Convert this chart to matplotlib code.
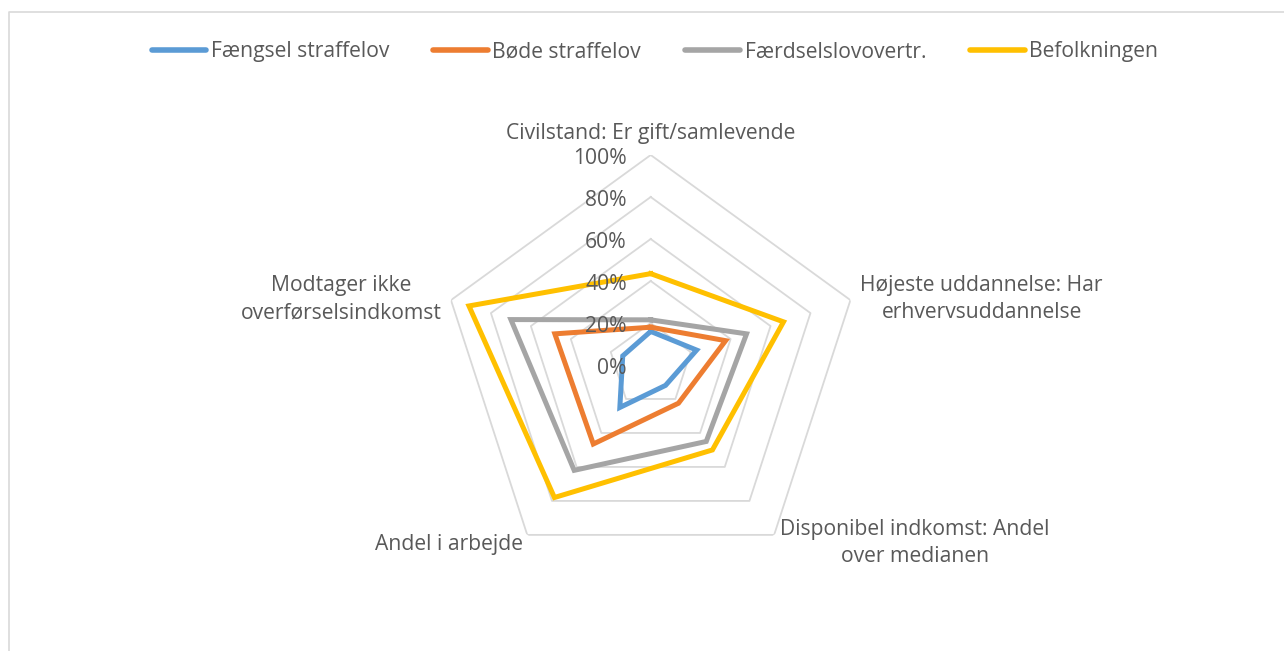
import numpy as np
import matplotlib
matplotlib.use("Agg")
import matplotlib.pyplot as plt
from matplotlib.lines import Line2D
import matplotlib.transforms as mtransforms

categories = [
    "Civilstand: Er gift/samlevende",
    "Højeste uddannelse: Har\nerhvervsuddannelse",
    "Disponibel indkomst: Andel\nover medianen",
    "Andel i arbejde",
    "Modtager ikke\noverførselsindkomst",
]
series_names = ["Fængsel straffelov", "Bøde straffelov", "Færdselslovovertr.", "Befolkningen"]
faengsel = [0.16, 0.23, 0.12, 0.25, 0.14]
boede = [0.18, 0.375, 0.225, 0.465, 0.48]
faerdsel = [0.215, 0.48, 0.45, 0.62, 0.70]
befolkning = [0.435, 0.665, 0.50, 0.78, 0.91]
tick_values = [0.0, 0.2, 0.4, 0.6, 0.8, 1.0]
tick_labels = ["0%", "20%", "40%", "60%", "80%", "100%"]

colors = ["#5B9BD5", "#ED7D31", "#A5A5A5", "#FFC000"]
text_color = "#595959"
grid_color = "#D9D9D9"

plt.rcParams['font.family'] = ['Open Sans', 'DejaVu Sans']
FS = 15.2

W, H = 1284, 651
fig = plt.figure(figsize=(W / 100, H / 100), dpi=100)

# border of the chart area
fig.add_artist(Line2D([9 / W, 9 / W, 1.0], [0.0, 1 - 12 / H, 1 - 12 / H],
                      transform=fig.transFigure, color="#D9D9D9", lw=1.2))

cx, cy, R = 650.7, 365.0, 210.0
ax = fig.add_axes([(cx - R) / W, 1 - (cy + R) / H, 2 * R / W, 2 * R / H], projection="polar")
ax.set_theta_offset(np.pi / 2)
ax.set_theta_direction(-1)
ax.set_ylim(0, 1.0)
ax.grid(False)
ax.spines["polar"].set_visible(False)
ax.set_xticks([])
ax.set_yticks([])
ax.patch.set_alpha(0)

n = len(categories)
angles = np.arange(n) * 2 * np.pi / n
closed = np.concatenate([angles, angles[:1]])

# pentagon grid
for t in tick_values[1:]:
    ax.plot(closed, [t] * (n + 1), color=grid_color, lw=1.3, zorder=1)

# data
for name, vals, c in zip(series_names, [faengsel, boede, faerdsel, befolkning], colors):
    v = list(vals) + [vals[0]]
    ax.plot(closed, v, color=c, lw=3.6, label=name, zorder=3, solid_joinstyle="miter")

# tick labels (drawn above the series lines)
for tv, tl in zip(tick_values, tick_labels):
    tr = ax.transData + mtransforms.ScaledTranslation(-24 / 100, -3 / 100, fig.dpi_scale_trans)
    ax.text(0, tv, tl, transform=tr, ha="right", va="center", fontsize=FS,
            color=text_color, zorder=5)

# category labels
offsets = [(0, 22, "center"), (10, 1, "left"), (6, -8, "left"), (-4, -10, "right"), (-9, 1, "right")]
for ang, lab, (dx, dy, ha) in zip(angles, categories, offsets):
    tr = ax.transData + mtransforms.ScaledTranslation(dx / 100, dy / 100, fig.dpi_scale_trans)
    ax.text(ang, 1.0, lab, transform=tr, ha=ha, va="center", multialignment="center",
            fontsize=FS, color=text_color, linespacing=1.4)

handles = [Line2D([], [], color=c, lw=4, solid_capstyle="round") for c in colors]
leg = fig.legend(handles, series_names, loc="center", bbox_to_anchor=(655 / W, 1 - 52 / H),
                 ncol=4, frameon=False, fontsize=FS, handlelength=2.6, handletextpad=0.2,
                 columnspacing=2.1)
for t in leg.get_texts():
    t.set_color(text_color)

fig.savefig("out.png", dpi=100)
